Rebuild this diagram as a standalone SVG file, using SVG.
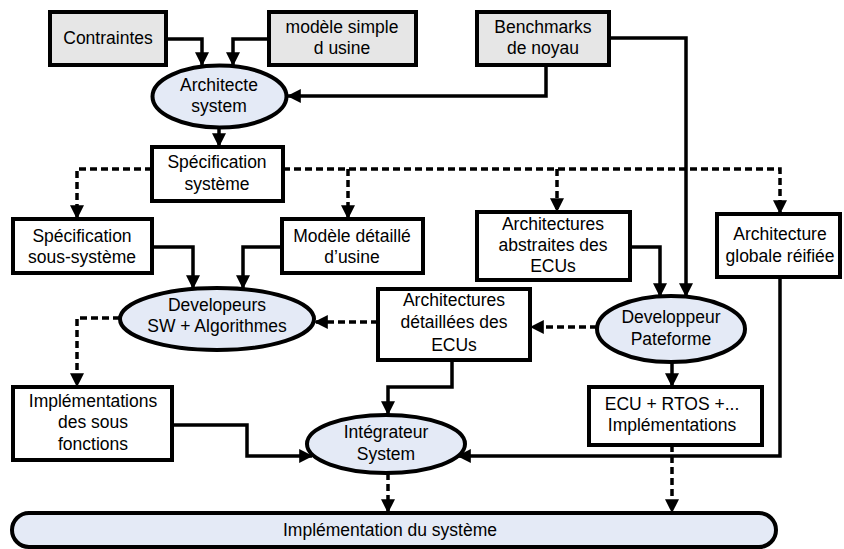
<svg xmlns="http://www.w3.org/2000/svg" width="844" height="549" viewBox="0 0 844 549">
  <style>
    .box { fill: #ffffff; stroke: #000; stroke-width: 4; }
    .src { fill: #e6e6e6; stroke: #000; stroke-width: 4; }
    .role { fill: #e4eaf6; stroke: #000; stroke-width: 4; }
    .lbl { font-family: "Liberation Sans", Arial, sans-serif; font-size: 17.5px; fill: #000; text-anchor: middle; }
    .flow { fill: none; stroke: #000; stroke-width: 3.5; }
    .dash { fill: none; stroke: #000; stroke-width: 3.5; stroke-dasharray: 7 4; }
  </style>
  <defs>
    <marker id="ah" viewBox="0 0 12 12" refX="11" refY="6" markerWidth="14" markerHeight="14" markerUnits="userSpaceOnUse" orient="auto">
      <path d="M0,0 L12,6 L0,12 Z" fill="#000"/>
    </marker>
  </defs>

  <g id="connectors">
    <path class="flow" d="M166,39 H202 V65" marker-end="url(#ah)"/>
    <path class="flow" d="M269,39 H233 V65" marker-end="url(#ah)"/>
    <path class="flow" d="M546,65 V96 H288" marker-end="url(#ah)"/>
    <path class="flow" d="M609,38 H686 V296" marker-end="url(#ah)"/>
    <path class="flow" d="M219,128 V146" marker-end="url(#ah)"/>
    <path class="dash" d="M152,169 H77 V218" marker-end="url(#ah)"/>
    <path class="dash" d="M283,169 H780 V213" marker-end="url(#ah)"/>
    <path class="dash" d="M348,169 V218" marker-end="url(#ah)"/>
    <path class="dash" d="M557,169 V211" marker-end="url(#ah)"/>
    <path class="flow" d="M152,247 H193 V288" marker-end="url(#ah)"/>
    <path class="flow" d="M282,247 H243 V288" marker-end="url(#ah)"/>
    <path class="flow" d="M630,247 H660 V296" marker-end="url(#ah)"/>
    <path class="dash" d="M597,327 H531" marker-end="url(#ah)"/>
    <path class="dash" d="M378,322 H315" marker-end="url(#ah)"/>
    <path class="dash" d="M120,318 H77 V386" marker-end="url(#ah)"/>
    <path class="flow" d="M452,360 V387 H388 V414" marker-end="url(#ah)"/>
    <path class="flow" d="M172,425 H247 V456 H312" marker-end="url(#ah)"/>
    <path class="flow" d="M780,277 V456 H458" marker-end="url(#ah)"/>
    <path class="flow" d="M672,362 V386" marker-end="url(#ah)"/>
    <path class="dash" d="M388,473 V512" marker-end="url(#ah)"/>
    <path class="dash" d="M672,445 V512" marker-end="url(#ah)"/>
  </g>

  <g id="contraintes">
    <rect class="src" x="50" y="12" width="116" height="53"/>
    <text class="lbl" x="108" y="44">Contraintes</text>
  </g>
  <g id="modele-simple">
    <rect class="src" x="269" y="12" width="147" height="53"/>
    <text class="lbl" x="342" y="33">modèle simple</text>
    <text class="lbl" x="342" y="54">d usine</text>
  </g>
  <g id="benchmarks">
    <rect class="src" x="477" y="12" width="132" height="53"/>
    <text class="lbl" x="543" y="33">Benchmarks</text>
    <text class="lbl" x="543" y="54">de noyau</text>
  </g>
  <g id="architecte">
    <ellipse class="role" cx="219.5" cy="96.5" rx="67" ry="31"/>
    <text class="lbl" x="219" y="91">Architecte</text>
    <text class="lbl" x="219" y="112">system</text>
  </g>
  <g id="spec-systeme">
    <rect class="box" x="152" y="147" width="131" height="54"/>
    <text class="lbl" x="217" y="168">Spécification</text>
    <text class="lbl" x="217" y="190">système</text>
  </g>
  <g id="spec-sous-systeme">
    <rect class="box" x="13" y="219" width="139" height="54"/>
    <text class="lbl" x="82" y="242">Spécification</text>
    <text class="lbl" x="82" y="263">sous-système</text>
  </g>
  <g id="modele-detaille">
    <rect class="box" x="282" y="219" width="141" height="54"/>
    <text class="lbl" x="352" y="242">Modèle détaillé</text>
    <text class="lbl" x="352" y="263">d’usine</text>
  </g>
  <g id="archi-abstraites">
    <rect class="box" x="477" y="212" width="153" height="68"/>
    <text class="lbl" x="553" y="230">Architectures</text>
    <text class="lbl" x="553" y="251">abstraites des</text>
    <text class="lbl" x="553" y="272">ECUs</text>
  </g>
  <g id="archi-globale">
    <rect class="box" x="717" y="214" width="123" height="63"/>
    <text class="lbl" x="780" y="240">Architecture</text>
    <text class="lbl" x="780" y="262">globale réifiée</text>
  </g>
  <g id="developpeurs-sw">
    <ellipse class="role" cx="217" cy="319" rx="97" ry="31"/>
    <text class="lbl" x="217" y="311">Developeurs</text>
    <text class="lbl" x="217" y="332">SW + Algorithmes</text>
  </g>
  <g id="archi-detaillees">
    <rect class="box" x="378" y="289" width="152" height="71"/>
    <text class="lbl" x="454" y="306">Architectures</text>
    <text class="lbl" x="454" y="328">détaillées des</text>
    <text class="lbl" x="454" y="351">ECUs</text>
  </g>
  <g id="developpeur-plateforme">
    <ellipse class="role" cx="671" cy="329" rx="74" ry="33"/>
    <text class="lbl" x="671" y="323">Developpeur</text>
    <text class="lbl" x="671" y="345">Pateforme</text>
  </g>
  <g id="impl-sous-fonctions">
    <rect class="box" x="13" y="387" width="159" height="73"/>
    <text class="lbl" x="93" y="407">Implémentations</text>
    <text class="lbl" x="93" y="428">des sous</text>
    <text class="lbl" x="93" y="450">fonctions</text>
  </g>
  <g id="ecu-rtos">
    <rect class="box" x="589" y="387" width="173" height="58"/>
    <text class="lbl" x="672" y="410">ECU + RTOS +...</text>
    <text class="lbl" x="672" y="431">Implémentations</text>
  </g>
  <g id="integrateur">
    <ellipse class="role" cx="386" cy="444" rx="79" ry="29"/>
    <text class="lbl" x="386" y="438">Intégrateur</text>
    <text class="lbl" x="386" y="460">System</text>
  </g>
  <g id="implementation-systeme">
    <rect class="role" x="12" y="513" width="764" height="34" rx="17" ry="17"/>
    <text class="lbl" x="390" y="536">Implémentation du système</text>
  </g>
</svg>
